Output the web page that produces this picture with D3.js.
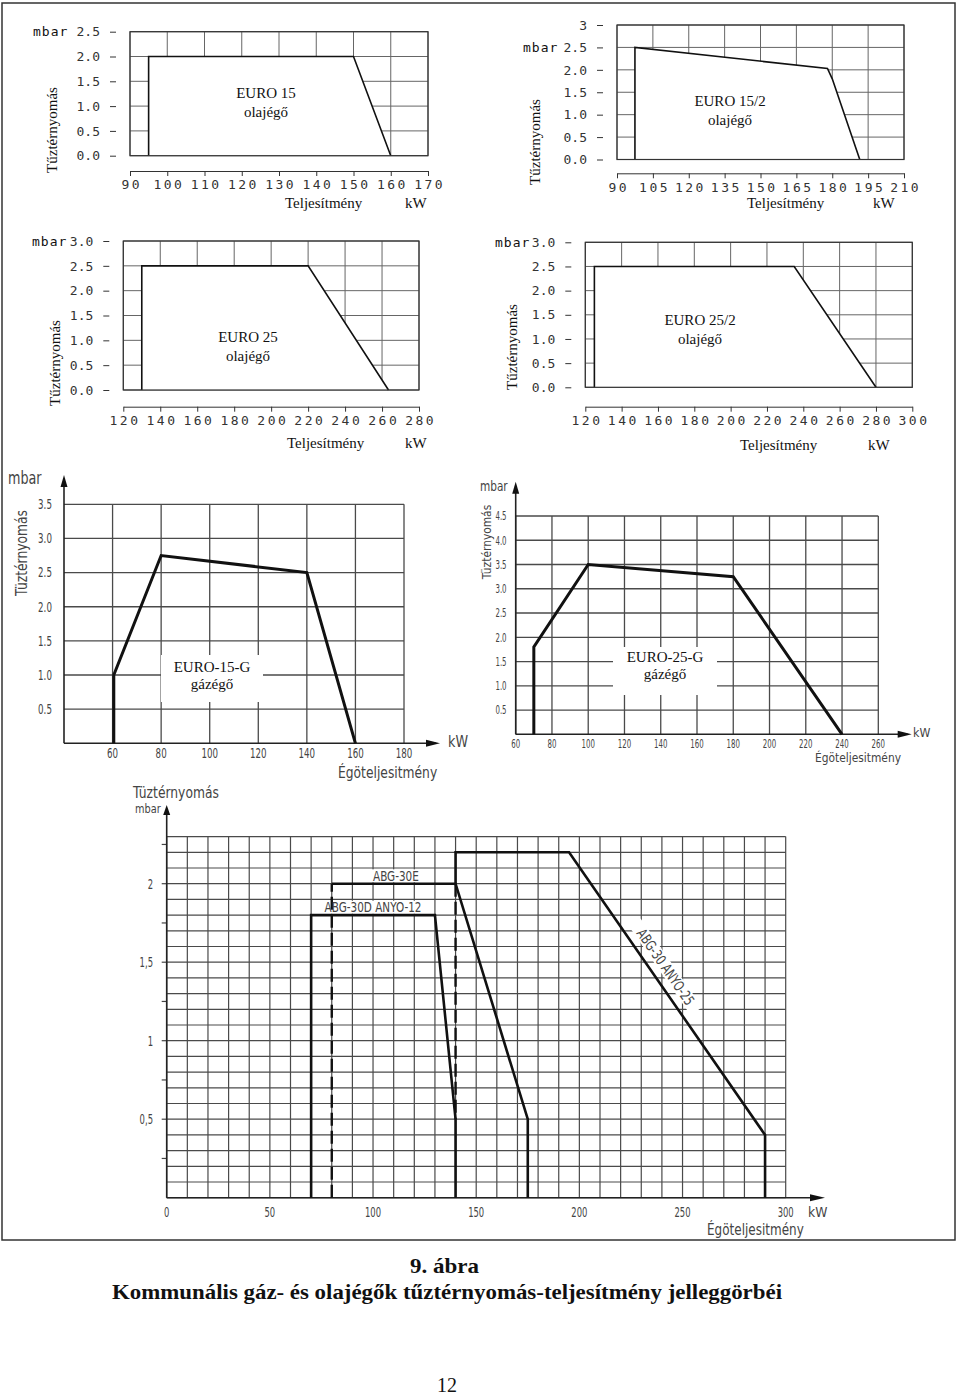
<!DOCTYPE html>
<meta charset="utf-8">
<style>
body { margin: 0; background: #fff; }
svg { display: block; background: #fff; }
</style>
<svg width="960" height="1398"></svg>
<script src="https://cdn.jsdelivr.net/npm/d3@7/dist/d3.min.js"></script>
<script>
// ---------- data ----------
// EURO 15 olajégő
var e15Kw = [90, 100, 110, 120, 130, 140, 150, 160, 170];
var e15Mbar = [0, 0.5, 1.0, 1.5, 2.0, 2.5];
var e15CurveKw = [95, 95, 150, 160];
var e15CurveMbar = [0, 2.0, 2.0, 0];

// EURO 15/2 olajégő
var e152Kw = [90, 105, 120, 135, 150, 165, 180, 195, 210];
var e152Mbar = [0, 0.5, 1.0, 1.5, 2.0, 2.5, 3];
var e152CurveKw = [97.5, 97.5, 178, 180, 191.5];
var e152CurveMbar = [0, 2.5, 2.03, 1.8, 0];

// EURO 25 olajégő
var e25Kw = [120, 140, 160, 180, 200, 220, 240, 260, 280];
var e25Mbar = [0, 0.5, 1.0, 1.5, 2.0, 2.5, 3.0];
var e25CurveKw = [130, 130, 220, 263.5];
var e25CurveMbar = [0, 2.5, 2.5, 0];

// EURO 25/2 olajégő
var e252Kw = [120, 140, 160, 180, 200, 220, 240, 260, 280, 300];
var e252Mbar = [0, 0.5, 1.0, 1.5, 2.0, 2.5, 3.0];
var e252CurveKw = [125, 125, 235, 280];
var e252CurveMbar = [0, 2.5, 2.5, 0];

// EURO-15-G gázégő
var g15Kw = [60, 80, 100, 120, 140, 160, 180];
var g15Mbar = [0.5, 1.0, 1.5, 2.0, 2.5, 3.0, 3.5];
var g15CurveKw = [60.5, 60.5, 80, 140, 160];
var g15CurveMbar = [0, 1.0, 2.75, 2.5, 0];

// EURO-25-G gázégő
var g25Kw = [60, 80, 100, 120, 140, 160, 180, 200, 220, 240, 260];
var g25Mbar = [0.5, 1.0, 1.5, 2.0, 2.5, 3.0, 3.5, 4.0, 4.5];
var g25CurveKw = [70, 70, 100, 180, 240];
var g25CurveMbar = [0, 1.8, 3.5, 3.25, 0];

// ABG / ANYO
var abgKw = [0, 50, 100, 150, 200, 250, 300];
var abgMbar = [0.5, 1, 1.5, 2];
var abgMinor = [0.25, 0.5, 0.75, 1, 1.25, 1.5, 1.75, 2, 2.25];
var abgTop = 2.3;
var anyo12Kw = [70, 70, 130, 140, 140];
var anyo12Mbar = [0, 1.8, 1.8, 0.5, 0];
var abg30eKw = [80, 140, 175, 175];
var abg30eMbar = [2.0, 2.0, 0.5, 0];
var abg30eDashKw = [80, 80];
var abg30eDashMbar = [0, 2.0];
var abg30Kw = [140, 140, 195, 290, 290];
var abg30Mbar = [2.0, 2.2, 2.2, 0.4, 0];
var abg30DashKw = [140, 140];
var abg30DashMbar = [2.0, 0.5];

// ---------- drawing ----------
var svg = d3.select("svg");
var MONO = '"DejaVu Sans Mono", monospace';
var SERIF = '"Liberation Serif", "Times New Roman", serif';
var TECH = '"DejaVu Sans", sans-serif';

function condense(sel, k) {
  sel.each(function() {
    var w = this.getComputedTextLength();
    d3.select(this).attr("textLength", w * k).attr("lengthAdjust", "spacingAndGlyphs");
  });
}

function txt(g, s, x, y, font, size, anchor) {
  return g.append("text").attr("x", x).attr("y", y)
      .attr("font-family", font).attr("font-size", size)
      .attr("text-anchor", anchor || "start").attr("fill", "#111").text(s);
}

function pts(xs, ys, x, y) {
  return xs.map(function(k, i) { return [x(k), y(ys[i])]; });
}

// page frame
svg.append("rect").attr("x", 2).attr("y", 3).attr("width", 953).attr("height", 1237)
    .attr("fill", "none").attr("stroke", "#333").attr("stroke-width", 1.5);

function oilPanel(p) {
  var x = d3.scaleLinear().domain(d3.extent(p.kw)).range([p.left, p.right]);
  var y = d3.scaleLinear().domain([0, d3.max(p.mbar)]).range([p.bottom, p.top]);
  var g = svg.append("g");

  g.selectAll(".vg").data(p.kw).enter().append("line")
      .attr("x1", function(d) { return x(d); }).attr("x2", function(d) { return x(d); })
      .attr("y1", p.top).attr("y2", p.bottom)
      .attr("stroke", "#666").attr("stroke-width", 1);
  g.selectAll(".hg").data(p.mbar).enter().append("line")
      .attr("x1", p.left).attr("x2", p.right)
      .attr("y1", function(d) { return y(d); }).attr("y2", function(d) { return y(d); })
      .attr("stroke", "#666").attr("stroke-width", 1);

  var c = pts(p.curveKw, p.curveMbar, x, y);
  g.append("path").attr("d", d3.line()(c) + "Z").attr("fill", "#fff");
  g.append("path").attr("d", d3.line()(c)).attr("fill", "none")
      .attr("stroke", "#111").attr("stroke-width", 1.6);
  g.append("rect").attr("x", p.left).attr("y", p.top)
      .attr("width", p.right - p.left).attr("height", p.bottom - p.top)
      .attr("fill", "none").attr("stroke", "#333").attr("stroke-width", 1.2);

  var ya = g.append("g").attr("transform", "translate(" + (p.left - 14) + ",0)")
      .call(d3.axisLeft(y).tickValues(p.mbar).tickSize(6).tickPadding(10)
        .tickFormat(function(d) { return d === 3 && p.plainTop ? "3" : d3.format(".1f")(d); }));
  ya.select(".domain").remove();
  ya.attr("font-family", MONO).attr("font-size", 13).style("color", "#333");

  var xa = g.append("g").attr("transform", "translate(0," + p.axisY + ")")
      .call(d3.axisBottom(x).tickValues(p.kw).tickSize(5).tickSizeOuter(0).tickPadding(4)
        .tickFormat(d3.format("d")));
  xa.attr("font-family", MONO).attr("font-size", 13).style("color", "#333");
  xa.selectAll("text").attr("letter-spacing", 2.5).attr("dx", 1.2);

  txt(g, "mbar", p.mbarX, y(p.mbarAt), MONO, 13).attr("dy", "0.35em").attr("letter-spacing", 1);
  txt(g, "Tűztérnyomás", 0, 0, SERIF, 15, "middle").attr("dy", "0.35em")
      .attr("transform", "translate(" + p.rotX + "," + p.rotY + ") rotate(-90)");
  txt(g, p.name, p.nameX, p.nameY, SERIF, 15, "middle");
  txt(g, "olajégő", p.nameX, p.nameY + 19, SERIF, 15, "middle");
  txt(g, "Teljesítmény", p.telX, p.telY, SERIF, 15);
  txt(g, "kW", p.kwX, p.telY, SERIF, 15);
}

oilPanel({ kw: e15Kw, mbar: e15Mbar, curveKw: e15CurveKw, curveMbar: e15CurveMbar,
  left: 130, right: 428, top: 31.7, bottom: 155.7, axisY: 171,
  mbarX: 33, mbarAt: 2.5, rotX: 52, rotY: 130, name: "EURO 15", nameX: 266, nameY: 98,
  telX: 285, telY: 208, kwX: 405 });
oilPanel({ kw: e152Kw, mbar: e152Mbar, curveKw: e152CurveKw, curveMbar: e152CurveMbar,
  left: 617, right: 904, top: 25, bottom: 159.5, axisY: 173.3, plainTop: true,
  mbarX: 523, mbarAt: 2.5, rotX: 535, rotY: 142, name: "EURO 15/2", nameX: 730, nameY: 106,
  telX: 747, telY: 208, kwX: 873 });
oilPanel({ kw: e25Kw, mbar: e25Mbar, curveKw: e25CurveKw, curveMbar: e25CurveMbar,
  left: 123.3, right: 419, top: 241, bottom: 390, axisY: 406.7,
  mbarX: 32, mbarAt: 3, rotX: 55, rotY: 363, name: "EURO 25", nameX: 248, nameY: 341.7,
  telX: 287, telY: 448, kwX: 405 });
oilPanel({ kw: e252Kw, mbar: e252Mbar, curveKw: e252CurveKw, curveMbar: e252CurveMbar,
  left: 585.3, right: 912.3, top: 242.3, bottom: 387.3, axisY: 406.7,
  mbarX: 495, mbarAt: 3, rotX: 512, rotY: 347, name: "EURO 25/2", nameX: 700, nameY: 325,
  telX: 740, telY: 450, kwX: 868 });

function arrowUp(g, x, tip, len, w) {
  g.append("path").attr("d", "M" + x + "," + tip + "L" + (x - w / 2) + "," + (tip + len) +
      "L" + (x + w / 2) + "," + (tip + len) + "Z").attr("fill", "#111");
}
function arrowRight(g, y, tip, len, w) {
  g.append("path").attr("d", "M" + tip + "," + y + "L" + (tip - len) + "," + (y - w / 2) +
      "L" + (tip - len) + "," + (y + w / 2) + "Z").attr("fill", "#111");
}

function gasPanel(p) {
  var x = d3.scaleLinear().domain([p.xMin, d3.max(p.kw)]).range([p.left, p.right]);
  var y = d3.scaleLinear().domain([0, d3.max(p.mbar)]).range([p.bottom, p.top]);
  var g = svg.append("g");

  g.selectAll(".vg").data(p.kw).enter().append("line")
      .attr("x1", function(d) { return x(d); }).attr("x2", function(d) { return x(d); })
      .attr("y1", p.top).attr("y2", p.bottom)
      .attr("stroke", "#4a4a4a").attr("stroke-width", 1.3);
  g.selectAll(".hg").data(p.mbar).enter().append("line")
      .attr("x1", p.left).attr("x2", p.right)
      .attr("y1", function(d) { return y(d); }).attr("y2", function(d) { return y(d); })
      .attr("stroke", "#4a4a4a").attr("stroke-width", 1.3);

  g.append("line").attr("x1", p.left).attr("x2", p.left).attr("y1", p.bottom).attr("y2", p.arrowTop + 4)
      .attr("stroke", "#222").attr("stroke-width", 1.6);
  g.append("line").attr("x1", p.left).attr("x2", p.arrowRight - 4).attr("y1", p.bottom).attr("y2", p.bottom)
      .attr("stroke", "#222").attr("stroke-width", 1.6);
  arrowUp(g, p.left, p.arrowTop, 12, 7);
  arrowRight(g, p.bottom, p.arrowRight, 14, 7);

  // label box
  g.append("rect").attr("x", p.boxX).attr("y", p.boxY).attr("width", p.boxW).attr("height", p.boxH)
      .attr("fill", "#fff");
  g.append("path").attr("d", d3.line()(pts(p.curveKw, p.curveMbar, x, y)))
      .attr("fill", "none").attr("stroke", "#111").attr("stroke-width", 3);

  var xl = g.selectAll(".xl").data(p.kw.filter(function(d) { return d >= p.firstLabel; })).enter().append("text")
      .attr("x", function(d) { return x(d); }).attr("y", p.bottom + p.xLabDy)
      .attr("font-family", TECH).attr("font-size", p.digit).attr("text-anchor", "middle")
      .attr("fill", "#444").text(function(d) { return d; });
  condense(xl, p.digitK);
  var yl = g.selectAll(".yl").data(p.mbar).enter().append("text")
      .attr("x", p.yLabX).attr("y", function(d) { return y(d); }).attr("dy", "0.35em")
      .attr("font-family", TECH).attr("font-size", p.digit).attr("text-anchor", "middle")
      .attr("fill", "#444").text(function(d) { return d3.format(".1f")(d); });
  condense(yl, p.digitK);

  condense(txt(g, "mbar", p.mbarX, p.mbarY, TECH, p.mbarSize).attr("dy", "0.35em").attr("fill", "#444"), 0.75);
  condense(txt(g, "Tüztérnyomás", 0, 0, TECH, p.rotSize, "middle").attr("dy", "0.35em").attr("fill", "#444")
      .attr("transform", "translate(" + p.rotX + "," + p.rotY + ") rotate(-90)"), 0.82);
  condense(txt(g, "kW", p.kwX, p.kwY, TECH, p.rotSize).attr("dy", "0.35em").attr("fill", "#444"), 0.85);
  condense(txt(g, "Égöteljesitmény", p.egX, p.egY, TECH, p.rotSize).attr("fill", "#444"), 0.82);

  txt(g, p.name, p.nameX, p.nameY, SERIF, 15, "middle");
  txt(g, "gázégő", p.nameX, p.nameY + 17, SERIF, 15, "middle");
}

gasPanel({ kw: g15Kw, mbar: g15Mbar, curveKw: g15CurveKw, curveMbar: g15CurveMbar,
  xMin: 40, firstLabel: 60, left: 64, right: 404, top: 504.3, bottom: 743.3,
  arrowTop: 475, arrowRight: 440, xLabDy: 15, yLabX: 45, digit: 14, digitK: 0.62,
  mbarX: 8, mbarY: 478, mbarSize: 17, rotX: 22, rotY: 553, rotSize: 15,
  kwX: 448, kwY: 742, egX: 338, egY: 778,
  boxX: 161, boxY: 655, boxW: 102, boxH: 47, name: "EURO-15-G", nameX: 212, nameY: 672 });
gasPanel({ kw: g25Kw, mbar: g25Mbar, curveKw: g25CurveKw, curveMbar: g25CurveMbar,
  xMin: 60, firstLabel: 60, left: 515.7, right: 878.3, top: 516, bottom: 734.3,
  arrowTop: 481.7, arrowRight: 911.7, xLabDy: 13.5, yLabX: 501, digit: 12.5, digitK: 0.56,
  mbarX: 480, mbarY: 485.7, mbarSize: 14, rotX: 486, rotY: 542, rotSize: 13,
  kwX: 913, kwY: 732, egX: 815, egY: 762,
  boxX: 613, boxY: 647, boxW: 104, boxH: 48, name: "EURO-25-G", nameX: 665, nameY: 662 });

// ---------- ABG / ANYO panel ----------
(function() {
  var left = 166.7, bottom = 1197.7;
  var x = d3.scaleLinear().domain([0, d3.max(abgKw)]).range([left, 785.7]);
  var y = d3.scaleLinear().domain([0, abgTop]).range([bottom, 836.6]);
  var g = svg.append("g");

  g.selectAll(".vg").data(x.ticks(30)).enter().append("line")
      .attr("x1", function(d) { return x(d); }).attr("x2", function(d) { return x(d); })
      .attr("y1", y(abgTop)).attr("y2", bottom)
      .attr("stroke", "#4a4a4a").attr("stroke-width", 1.2);
  g.selectAll(".hg").data(y.ticks(23)).enter().append("line")
      .attr("x1", left).attr("x2", x(d3.max(abgKw)))
      .attr("y1", function(d) { return y(d); }).attr("y2", function(d) { return y(d); })
      .attr("stroke", "#4a4a4a").attr("stroke-width", 1.2);

  g.selectAll(".mt").data(abgMinor).enter().append("line")
      .attr("x1", left - 5).attr("x2", left)
      .attr("y1", function(d) { return y(d); }).attr("y2", function(d) { return y(d); })
      .attr("stroke", "#444").attr("stroke-width", 1.2);

  g.append("line").attr("x1", left).attr("x2", left).attr("y1", bottom).attr("y2", 810)
      .attr("stroke", "#222").attr("stroke-width", 1.6);
  g.append("line").attr("x1", left).attr("x2", 815).attr("y1", bottom).attr("y2", bottom)
      .attr("stroke", "#222").attr("stroke-width", 1.6);
  arrowUp(g, left, 805, 10, 7);
  arrowRight(g, bottom, 825, 15, 7);

  // label backgrounds
  g.append("rect").attr("x", x(111.1) - 29).attr("y", y(2.05) - 6.5).attr("width", 58).attr("height", 13).attr("fill", "#fff");
  g.append("rect").attr("x", x(100) - 56).attr("y", y(1.85) - 6.5).attr("width", 112).attr("height", 13).attr("fill", "#fff");

  // label along the ABG-30 / ANYO-25 slope
  var p0 = [x(195), y(2.2)], p1 = [x(290), y(0.4)];
  var dx = p1[0] - p0[0], dy = p1[1] - p0[1], len = Math.sqrt(dx * dx + dy * dy);
  var ang = Math.atan2(dy, dx) * 180 / Math.PI;
  var t = 0.434, off = 14;
  var cx = p0[0] + dx * t + off * (dy / len);
  var cy = p0[1] + dy * t - off * (dx / len);
  var rl = g.append("g").attr("transform", "translate(" + cx + "," + cy + ") rotate(" + ang + ")");
  rl.append("rect").attr("x", -54).attr("y", -7).attr("width", 108).attr("height", 14).attr("fill", "#fff");

  function solid(xs, ys) {
    g.append("path").attr("d", d3.line()(pts(xs, ys, x, y)))
        .attr("fill", "none").attr("stroke", "#111").attr("stroke-width", 2.6);
  }
  function dashed(xs, ys) {
    g.append("path").attr("d", d3.line()(pts(xs, ys, x, y)))
        .attr("fill", "none").attr("stroke", "#111").attr("stroke-width", 2.4)
        .attr("stroke-dasharray", "13,5");
  }
  solid(anyo12Kw, anyo12Mbar);
  solid(abg30eKw, abg30eMbar);
  dashed(abg30eDashKw, abg30eDashMbar);
  solid(abg30Kw, abg30Mbar);
  dashed(abg30DashKw, abg30DashMbar);

  var xl = g.selectAll(".xl").data(abgKw).enter().append("text")
      .attr("x", function(d) { return x(d); }).attr("y", 1216.7)
      .attr("font-family", TECH).attr("font-size", 14.5).attr("text-anchor", "middle")
      .attr("fill", "#444").text(function(d) { return d; });
  condense(xl, 0.58);
  var yl = g.selectAll(".yl").data(abgMbar).enter().append("text")
      .attr("x", 153).attr("y", function(d) { return y(d); }).attr("dy", "0.35em")
      .attr("font-family", TECH).attr("font-size", 14.5).attr("text-anchor", "end")
      .attr("fill", "#444").text(function(d) { return String(d).replace(".", ","); });
  condense(yl, 0.58);

  condense(txt(g, "Tüztérnyomás", 133, 798, TECH, 15).attr("fill", "#444"), 0.82);
  condense(txt(g, "mbar", 135, 813, TECH, 13).attr("fill", "#444"), 0.75);
  condense(txt(g, "kW", 808, 1216.7, TECH, 14.5).attr("fill", "#444"), 0.85);
  condense(txt(g, "Égöteljesitmény", 707, 1235, TECH, 15).attr("fill", "#444"), 0.8);

  condense(txt(g, "ABG-30E", x(111.1), y(2.05), TECH, 14.5, "middle").attr("dy", "0.35em").attr("fill", "#444"), 0.72);
  condense(txt(g, "ABG-30D   ANYO-12", x(100), y(1.85), TECH, 14.5, "middle").attr("dy", "0.35em").attr("fill", "#444"), 0.72);
  condense(rl.append("text").attr("text-anchor", "middle").attr("dy", "0.35em")
      .attr("font-family", TECH).attr("font-size", 14.5).attr("fill", "#444")
      .text("ABG-30   ANYO-25"), 0.72);
})();

// ---------- caption ----------
txt(svg, "9. ábra", 444.5, 1273, SERIF, 22, "middle").attr("font-weight", "bold")
    .attr("textLength", 69).attr("lengthAdjust", "spacingAndGlyphs");
txt(svg, "Kommunális gáz- és olajégők tűztérnyomás-teljesítmény jelleggörbéi", 447, 1298.5, SERIF, 22, "middle")
    .attr("font-weight", "bold").attr("textLength", 670).attr("lengthAdjust", "spacingAndGlyphs");
txt(svg, "12", 447, 1392, SERIF, 20, "middle").attr("textLength", 20).attr("lengthAdjust", "spacingAndGlyphs");
</script>
